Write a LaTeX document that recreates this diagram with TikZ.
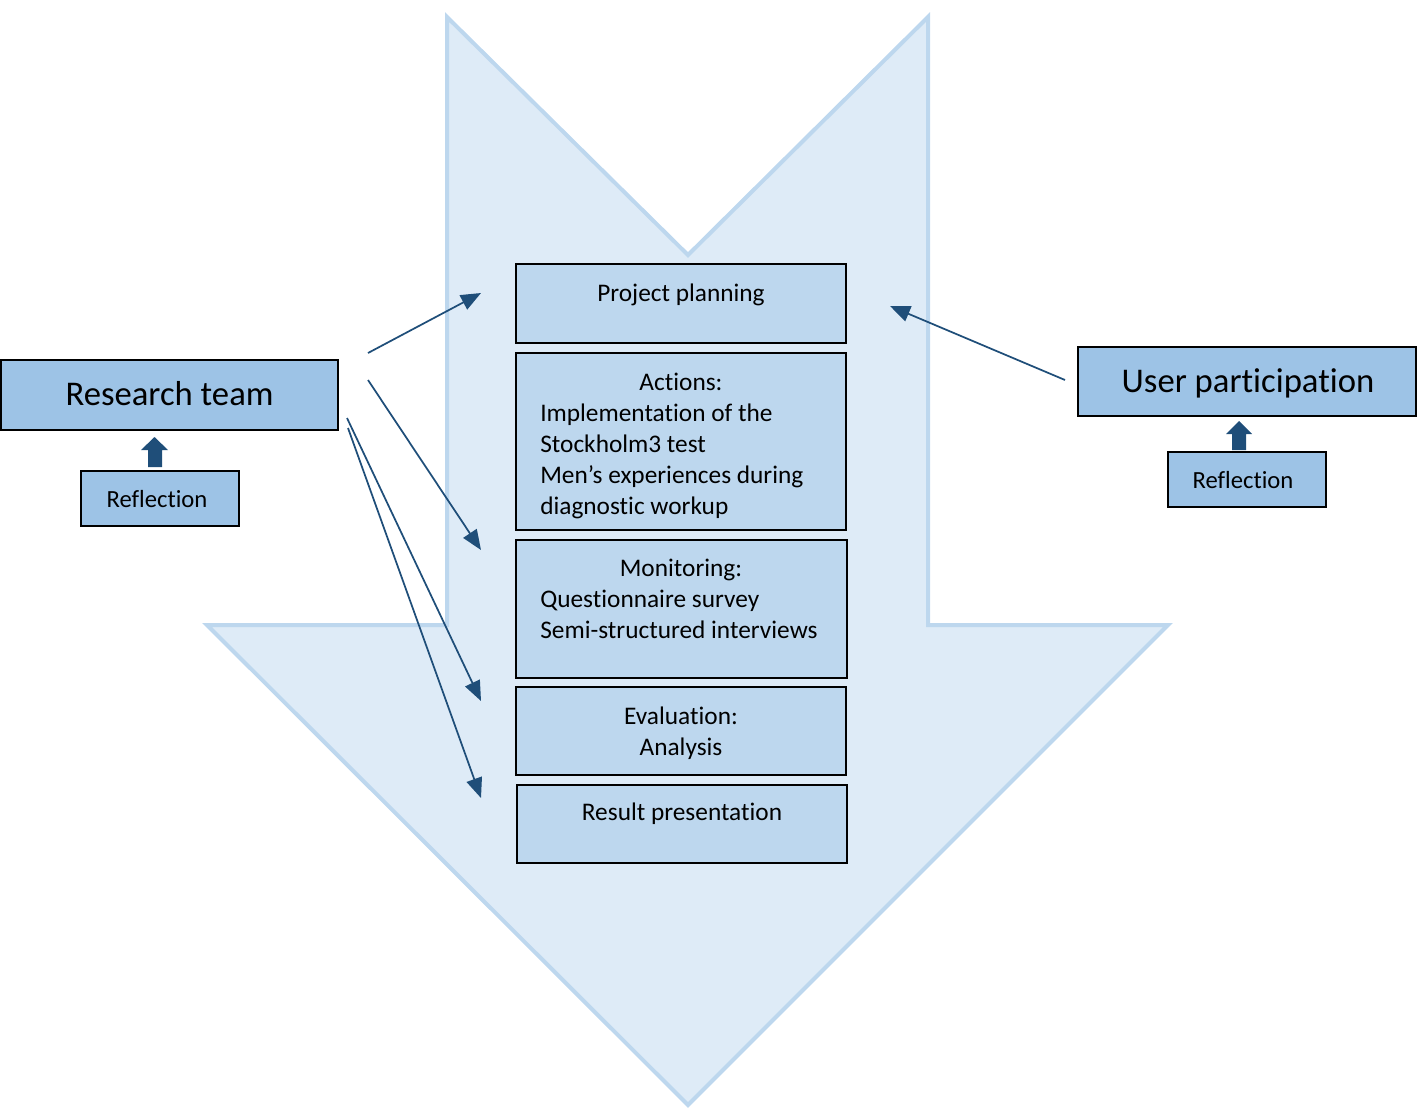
\documentclass[tikz,border=0pt]{standalone}
\usepackage{fontspec}
\setmainfont{Carlito}[RawFeature={-liga;-dlig}]
\usetikzlibrary{arrows.meta,fit}
\definecolor{bigfill}{HTML}{DEEBF7}
\definecolor{bigline}{HTML}{BDD7EE}
\definecolor{boxfill}{HTML}{BDD7EE}
\definecolor{sidefill}{HTML}{9DC3E6}
\definecolor{arrowc}{HTML}{1F4E79}
\begin{document}
\begin{tikzpicture}[x=0.75pt,y=-0.75pt,
  bigarrow/.style={fill=bigfill,draw=bigline,line width=3pt,line join=miter},
  stagebox/.style={draw=black,fill=boxfill,line width=1.4pt,inner sep=0pt},
  sidebox/.style={draw=black,fill=sidefill,line width=1.4pt,inner sep=0pt},
  txt/.style={inner sep=0pt,font=\fontsize{19}{23}\selectfont},
  reftxt/.style={inner sep=0pt,font=\fontsize{18.5}{22}\selectfont},
  bigtxt/.style={inner sep=0pt,font=\fontsize{26}{31}\selectfont},
  conn/.style={draw=arrowc,line width=1.3pt,-{Triangle[length=15pt,width=12pt]}},
  blockarrow/.style={fill=arrowc}
]
\useasboundingbox (0,0) rectangle (1424,1108);
% big background arrow
\draw[bigarrow] (447,17) -- (688,255) -- (928,17) -- (928,625) -- (1168,625)
  -- (688,1105) -- (207,625) -- (447,625) -- cycle;

% stage boxes
\node[stagebox, fit={(516,264)(846,343)}] (plan) {};
\node[stagebox, fit={(516,353)(846,530)}] (act) {};
\node[stagebox, fit={(516,540)(847,678)}] (mon) {};
\node[stagebox, fit={(516,687)(846,775)}] (eval) {};
\node[stagebox, fit={(517,785)(847,863)}] (res) {};

\node[txt, anchor=base] (plant) at (681,301) {Project planning};
\node[txt, anchor=base] (act0) at (681,390) {Actions:};
\node[txt, anchor=base west] (act1) at (540,421) {Implementation of the};
\node[txt, anchor=base west] (act2) at (540,452) {Stockholm3 test};
\node[txt, anchor=base west] (act3) at (540,483) {Men’s experiences during};
\node[txt, anchor=base west] (act4) at (540,514) {diagnostic workup};
\node[txt, anchor=base] (mon0) at (681,576) {Monitoring:};
\node[txt, anchor=base west] (mon1) at (540,607) {Questionnaire survey};
\node[txt, anchor=base west] (mon2) at (540,638) {Semi-structured interviews};
\node[txt, anchor=base] (eval0) at (681,724) {Evaluation:};
\node[txt, anchor=base] (eval1) at (681,755) {Analysis};
\node[txt, anchor=base] (rest) at (682,820) {Result presentation};

% side boxes
\node[sidebox, fit={(1,360)(338,430)}] (rt) {};
\node[bigtxt, anchor=base] (rtt) at (169.5,405) {Research team};
\node[sidebox, fit={(81,471)(239,526)}] (rl) {};
\node[reftxt, anchor=base] (rlt) at (157,507) {Reflection};
\node[sidebox, fit={(1078,347)(1416,416)}] (up) {};
\node[bigtxt, anchor=base] (upt) at (1248,392) {User participation};
\node[sidebox, fit={(1168,452)(1326,507)}] (rr) {};
\node[reftxt, anchor=base] (rrt) at (1243,488) {Reflection};

% block arrows (Reflection -> box)
\fill[blockarrow] (148,467) -- (148,450) -- (141,450) -- (154.5,437) -- (168,450)
  -- (162,450) -- (162,467) -- cycle;
\fill[blockarrow] (1232,450) -- (1232,434) -- (1226,434) -- (1239,421) -- (1252,434)
  -- (1246,434) -- (1246,450) -- cycle;

% connectors
\coordinate (s1) at (368,353);
\coordinate (e1) at (481,293);
\coordinate (s2) at (368,380);
\coordinate (e2) at (481,550);
\coordinate (s3) at (347,418);
\coordinate (e3) at (481,701);
\coordinate (s4) at (348,428);
\coordinate (e4) at (481,798);
\coordinate (s5) at (1065,380);
\coordinate (e5) at (890,306);
\draw[conn] (s1) -- (e1);
\draw[conn] (s2) -- (e2);
\draw[conn] (s3) -- (e3);
\draw[conn] (s4) -- (e4);
\draw[conn] (s5) -- (e5);
\end{tikzpicture}
\end{document}
